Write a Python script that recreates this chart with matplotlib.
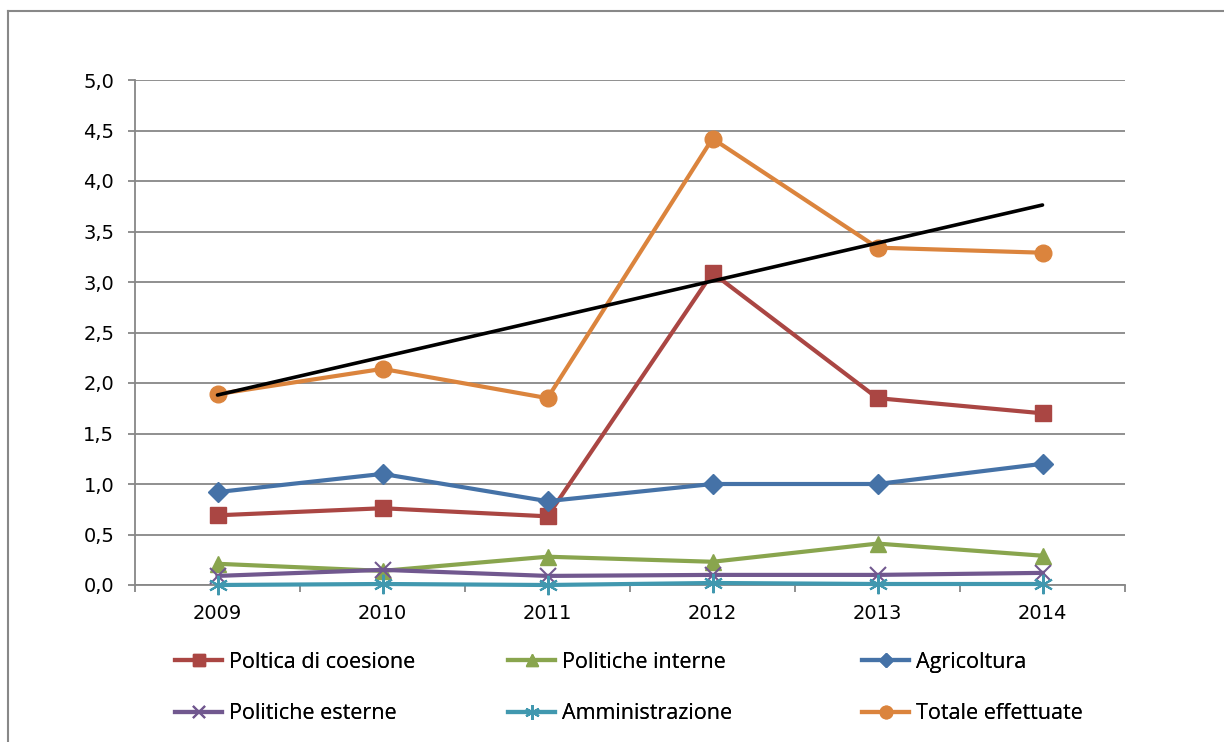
import numpy as np
import matplotlib
matplotlib.use("Agg")
import matplotlib.pyplot as plt
from matplotlib.lines import Line2D
from matplotlib.ticker import MultipleLocator, FuncFormatter, FixedLocator

years = ["2009", "2010", "2011", "2012", "2013", "2014"]
coesione = [0.69, 0.76, 0.68, 3.09, 1.85, 1.70]
interne = [0.21, 0.14, 0.28, 0.23, 0.41, 0.29]
agricoltura = [0.92, 1.10, 0.83, 1.00, 1.00, 1.20]
esterne = [0.09, 0.15, 0.09, 0.10, 0.10, 0.12]
amministrazione = [0.00, 0.01, 0.00, 0.02, 0.01, 0.01]
totale = [1.89, 2.14, 1.85, 4.42, 3.34, 3.29]

labels = ["Poltica di coesione", "Politiche interne", "Agricoltura",
          "Politiche esterne", "Amministrazione", "Totale effettuate"]

fig = plt.figure(figsize=(12.24, 7.42), dpi=100)
ax = fig.add_axes([135/1224, 1-585/742, 990/1224, 505/742])

x = np.arange(len(years))
lw = 3.0
kw = dict(lw=lw, zorder=3, clip_on=False)
h_coe, = ax.plot(x, coesione, color="#AA4643", marker="s", ms=12, label=labels[0], **kw)
h_int, = ax.plot(x, interne, color="#89A54E", marker="^", ms=12, label=labels[1], **kw)
h_agr, = ax.plot(x, agricoltura, color="#4572A7", marker="D", ms=10, label=labels[2], **kw)
h_est, = ax.plot(x, esterne, color="#71588F", marker="x", ms=12, mew=1.5, label=labels[3], **kw)
h_amm, = ax.plot(x, amministrazione, color="#4198AF", marker=(6, 2, 0), ms=14, mew=1.5, label=labels[4], **kw)
h_tot, = ax.plot(x, totale, color="#DB843D", marker="o", ms=12, label=labels[5], **kw)

# linear trend of the total
coef = np.polyfit(x, totale, 1)
ax.plot(x, np.polyval(coef, x), color="black", lw=2.6, zorder=4, solid_capstyle="round")

ax.set_xlim(-0.5, len(years) - 0.5)
ax.set_ylim(0, 5.0)
ax.yaxis.set_major_locator(MultipleLocator(0.5))
ax.yaxis.set_major_formatter(FuncFormatter(lambda v, p: f"{v:.1f}".replace(".", ",")))
ax.grid(axis="y", color="#878787", lw=1.3)
ax.set_axisbelow(True)

ax.set_xticks(x)
ax.set_xticklabels(years)
ax.xaxis.set_minor_locator(FixedLocator(np.arange(-0.5, len(years) + 0.5, 1)))
ax.tick_params(axis="x", which="major", length=0, pad=14, labelsize=14)
ax.tick_params(axis="x", which="minor", length=5, width=1.3, color="#878787", direction="out")
ax.tick_params(axis="y", length=5, width=1.3, color="#878787", pad=10, labelsize=14)

for s in ["top", "right"]:
    ax.spines[s].set_visible(False)
ax.spines["left"].set_color("#878787")
ax.spines["left"].set_linewidth(1.3)
ax.spines["bottom"].set_color("#878787")
ax.spines["bottom"].set_linewidth(1.3)

# legend: three columns placed like the original
cols = [([h_coe, h_est], 175), ([h_int, h_amm], 508), ([h_agr, h_tot], 862)]
for hs, xpix in cols:
    lg = fig.legend(handles=hs, labels=[h.get_label() for h in hs],
                    ncol=1, loc="upper left", bbox_to_anchor=(xpix/1224, 1-652/742),
                    frameon=False, handlelength=2.2, handletextpad=0.3, markerscale=0.75,
                    labelspacing=1.4, borderpad=0, borderaxespad=0,
                    prop={"family": "Open Sans", "size": 15.5})
    fig.add_artist(lg)

# outer chart-area frame (partially visible)
fig.add_artist(Line2D([7.5/1224, 1.0], [1-10.5/742, 1-10.5/742], color="#888888", lw=1.5))
fig.add_artist(Line2D([7.5/1224, 7.5/1224], [0, 1-10.5/742], color="#888888", lw=1.5))

fig.savefig("out.png", dpi=100, facecolor="white")
